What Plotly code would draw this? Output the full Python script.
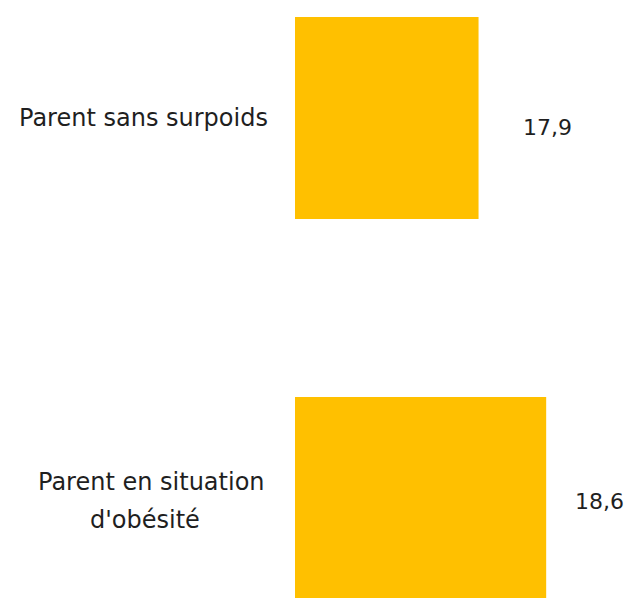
import plotly.graph_objects as go

categories = ["Parent sans surpoids", "Parent en situation<br>d'obésité"]
values = [17.9, 18.6]
value_labels = [f"{v:.1f}".replace(".", ",") for v in values]

BAR_COLOR = "#FFC000"
TEXT_COLOR = "#1F1F1F"
FONT = "DejaVu Sans"

fig = go.Figure(
    go.Bar(
        y=categories,
        x=values,
        orientation="h",
        marker=dict(color=BAR_COLOR, line=dict(width=0)),
        hoverinfo="skip",
    )
)

# value labels to the right of bars
label_shift = [42, 27]
label_yshift = [-9, -3]
for cat, v, t, s, ys in zip(categories, values, value_labels, label_shift, label_yshift):
    fig.add_annotation(
        x=v, y=cat, xref="x", yref="y", text=t, showarrow=False,
        xanchor="left", xshift=s, yshift=ys,
        font=dict(family=FONT, size=22, color=TEXT_COLOR),
    )

# category labels centred in left margin, one annotation per line
cat_centers = [[-152], [-144, -150]]
cat_yshift = [[0], [16, -22]]
for cat, cxs, yss in zip(categories, cat_centers, cat_yshift):
    for line, cx, ys in zip(cat.split("<br>"), cxs, yss):
        fig.add_annotation(
            x=0, y=cat, xref="paper", yref="y", text=line, showarrow=False,
            xanchor="center", xshift=cx, yshift=ys, align="center",
            font=dict(family=FONT, size=24, color=TEXT_COLOR),
        )

fig.update_layout(
    width=631, height=598,
    margin=dict(l=295, r=0, t=0, b=0),
    paper_bgcolor="white", plot_bgcolor="white",
    bargap=0.468,
    showlegend=False,
    xaxis=dict(range=[16, 19.478], visible=False, fixedrange=True),
    yaxis=dict(range=[1.263, -0.3105], visible=False, fixedrange=True,
               categoryorder="array", categoryarray=categories),
)

fig.write_html("out.html")
